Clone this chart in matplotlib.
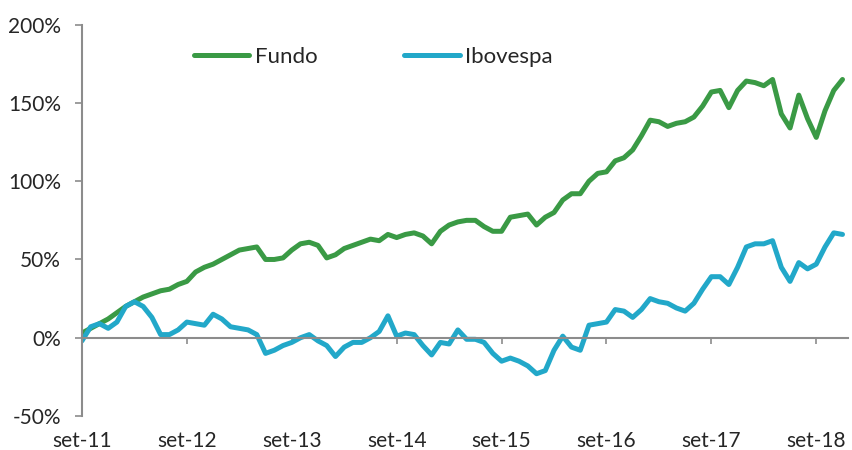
import matplotlib
matplotlib.use('Agg')
import matplotlib.pyplot as plt
import numpy as np
from matplotlib.ticker import FuncFormatter

# -----------------------Data (monthly, set-11 .. dez-18, % return)-----------------------
fundo = [3, 6, 9, 12, 16, 20, 23, 26, 28, 30, 31, 34,
         36, 42, 45, 47, 50, 53, 56, 57, 58, 50, 50, 51,
         56, 60, 61, 59, 51, 53, 57, 59, 61, 63, 62, 66,
         64, 66, 67, 65, 60, 68, 72, 74, 75, 75, 71, 68,
         68, 77, 78, 79, 72, 77, 80, 88, 92, 92, 100, 105,
         106, 113, 115, 120, 129, 139, 138, 135, 137, 138, 141, 148,
         157, 158, 147, 158, 164, 163, 161, 165, 143, 134, 155, 140,
         128, 145, 158, 165]
ibovespa = [-2, 7, 9, 6, 10, 20, 23, 20, 13, 2, 2, 5,
            10, 9, 8, 15, 12, 7, 6, 5, 2, -10, -8, -5,
            -3, 0, 2, -2, -5, -12, -6, -3, -3, 0, 4, 14,
            1, 3, 2, -5, -11, -3, -4, 5, -1, -1, -3, -10,
            -15, -13, -15, -18, -23, -21, -8, 1, -6, -8, 8, 9,
            10, 18, 17, 13, 18, 25, 23, 22, 19, 17, 22, 31,
            39, 39, 34, 45, 58, 60, 60, 62, 45, 36, 48, 44,
            47, 58, 67, 66]
x_labels = ['set-11', 'set-12', 'set-13', 'set-14', 'set-15', 'set-16', 'set-17', 'set-18']
y_ticks = [-50, 0, 50, 100, 150, 200]

# -----------------------Fig configuration-----------------------
plt.rcParams['font.family'] = ['Lato', 'DejaVu Sans']
green = '#3A9A45'
blue = '#22A8C9'
axis_gray = '#8C8C8C'
text_color = '#262626'
label_size = 15
legend_size = 16

fig = plt.figure(figsize=(8.52, 4.5), dpi=100)
ax = fig.add_axes([0.0962, 0.0756, 0.8988, 0.8695])

# -----------------------Plot-----------------------
months = np.arange(len(fundo))
ax.plot(months, fundo, color=green, linewidth=3.6, label='Fundo',
        solid_joinstyle='round', solid_capstyle='round')
ax.plot(months, ibovespa, color=blue, linewidth=3.6, label='Ibovespa',
        solid_joinstyle='round', solid_capstyle='round')

ax.set_xlim(0, 87.6)
ax.set_ylim(-50, 200)
ax.set_yticks(y_ticks)
ax.yaxis.set_major_formatter(FuncFormatter(lambda v, p: f'{v:.0f}%'))
ax.tick_params(axis='y', direction='out', length=5, width=1.2, color=axis_gray,
               labelsize=label_size, labelcolor=text_color, pad=10)

# x axis line crosses at 0, labels stay at the bottom
for s in ['top', 'right']:
    ax.spines[s].set_visible(False)
ax.spines['left'].set_color(axis_gray)
ax.spines['left'].set_linewidth(1.5)
ax.spines['bottom'].set_position(('data', 0))
ax.spines['bottom'].set_color(axis_gray)
ax.spines['bottom'].set_linewidth(1.5)
tick_pos = np.arange(0, len(fundo), 12)
ax.set_xticks(tick_pos)
ax.tick_params(axis='x', direction='out', length=4.5, width=1.2, color=axis_gray,
               labelbottom=False)

sec = ax.secondary_xaxis(0)
sec.set_xticks(tick_pos)
sec.set_xticklabels(x_labels)
sec.tick_params(length=0, labelsize=label_size, labelcolor=text_color, pad=11)
sec.spines['bottom'].set_visible(False)

ax.legend(loc='center left', bbox_to_anchor=(0.146, 0.918), ncol=2, frameon=False,
          fontsize=legend_size, handlelength=2.5, handletextpad=0.25,
          columnspacing=3.9, borderpad=0, borderaxespad=0, labelcolor=text_color)

plt.savefig('out.png', dpi=100)
